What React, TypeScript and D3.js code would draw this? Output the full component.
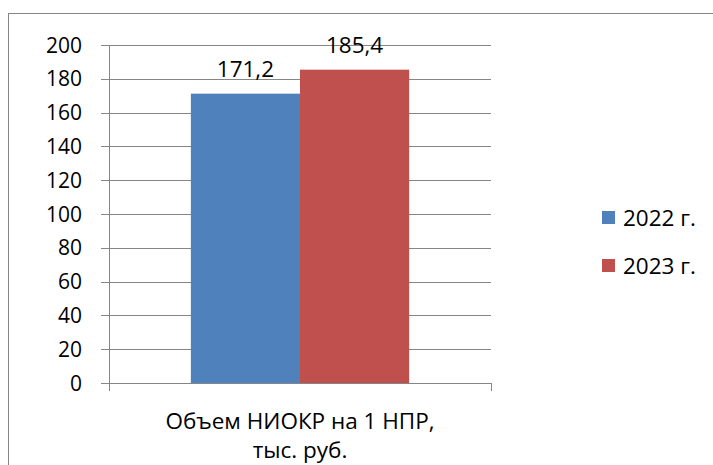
import React from "react";
import * as d3 from "d3";

const categories = ["Объем НИОКР на 1 НПР, тыс. руб."];
const categoryLines = ["Объем НИОКР на 1 НПР,", "тыс. руб."];
const seriesNames = ["2022 г.", "2023 г."];
const seriesValues = [171.2, 185.4];
const seriesLabels = ["171,2", "185,4"];
const seriesColors = ["#4f81bd", "#c0504d"];
const yTicks = [0, 20, 40, 60, 80, 100, 120, 140, 160, 180, 200];

const W = 713;
const H = 465;
const FONT = "'Open Sans', 'Noto Sans', sans-serif";

export default function App() {
  const left = 109, right = 491, top = 45, bottom = 383;
  const y = d3.scaleLinear().domain([0, 200]).range([bottom, top]);
  const x0 = d3.scaleBand().domain(categories).range([left, right]).paddingInner(0).paddingOuter(0);
  const groupInner = d3.scaleBand().domain(seriesNames).range([0, x0.bandwidth()]).paddingInner(0).paddingOuter(0.75);
  const grid = "#868686";
  return (
    <svg width={W} height={H} style={{ position: "absolute", left: 0, top: 0, display: "block" }} fontFamily={FONT}>
      <rect x={8.5} y={13.5} width={W + 10} height={H + 10} fill="#fff" stroke={grid} strokeWidth={1} />
      {yTicks.map((t) => (
        <g key={t}>
          <line x1={left - 8} x2={right} y1={Math.round(y(t)) + 0.5} y2={Math.round(y(t)) + 0.5} stroke={grid} strokeWidth={1} />
          <text x={left - 27} y={y(t)} dy="0.36em" textAnchor="end" fontSize={21} fill="#000">{t}</text>
        </g>
      ))}
      {categories.map((c) => (
        <g key={c}>
          {seriesNames.map((s, i) => {
            const bx = (x0(c) ?? 0) + (groupInner(s) ?? 0);
            const v = seriesValues[i];
            return (
              <g key={s}>
                <rect x={bx} y={y(v)} width={groupInner.bandwidth()} height={bottom - y(v)} fill={seriesColors[i]} />
                <text x={bx + groupInner.bandwidth() / 2} y={y(v) - 17} textAnchor="middle" fontSize={22.5} fill="#000">{seriesLabels[i]}</text>
              </g>
            );
          })}
          {categoryLines.map((l, k) => (
            <text key={k} x={(x0(c) ?? 0) + x0.bandwidth() / 2} y={429 + k * 29} textAnchor="middle" fontSize={22.5} fill="#000">{l}</text>
          ))}
        </g>
      ))}
      <line x1={left + 0.5} x2={left + 0.5} y1={top} y2={bottom + 8} stroke={grid} strokeWidth={1} />
      <line x1={right + 0.5} x2={right + 0.5} y1={bottom} y2={bottom + 8} stroke={grid} strokeWidth={1} />
      {seriesNames.map((s, i) => (
        <g key={s} transform={`translate(602, ${211 + i * 48})`}>
          <rect x={0} y={0} width={13} height={13} fill={seriesColors[i]} />
          <text x={21} y={6.5} dy="0.36em" fontSize={22.5} fill="#000">{s}</text>
        </g>
      ))}
    </svg>
  );
}
